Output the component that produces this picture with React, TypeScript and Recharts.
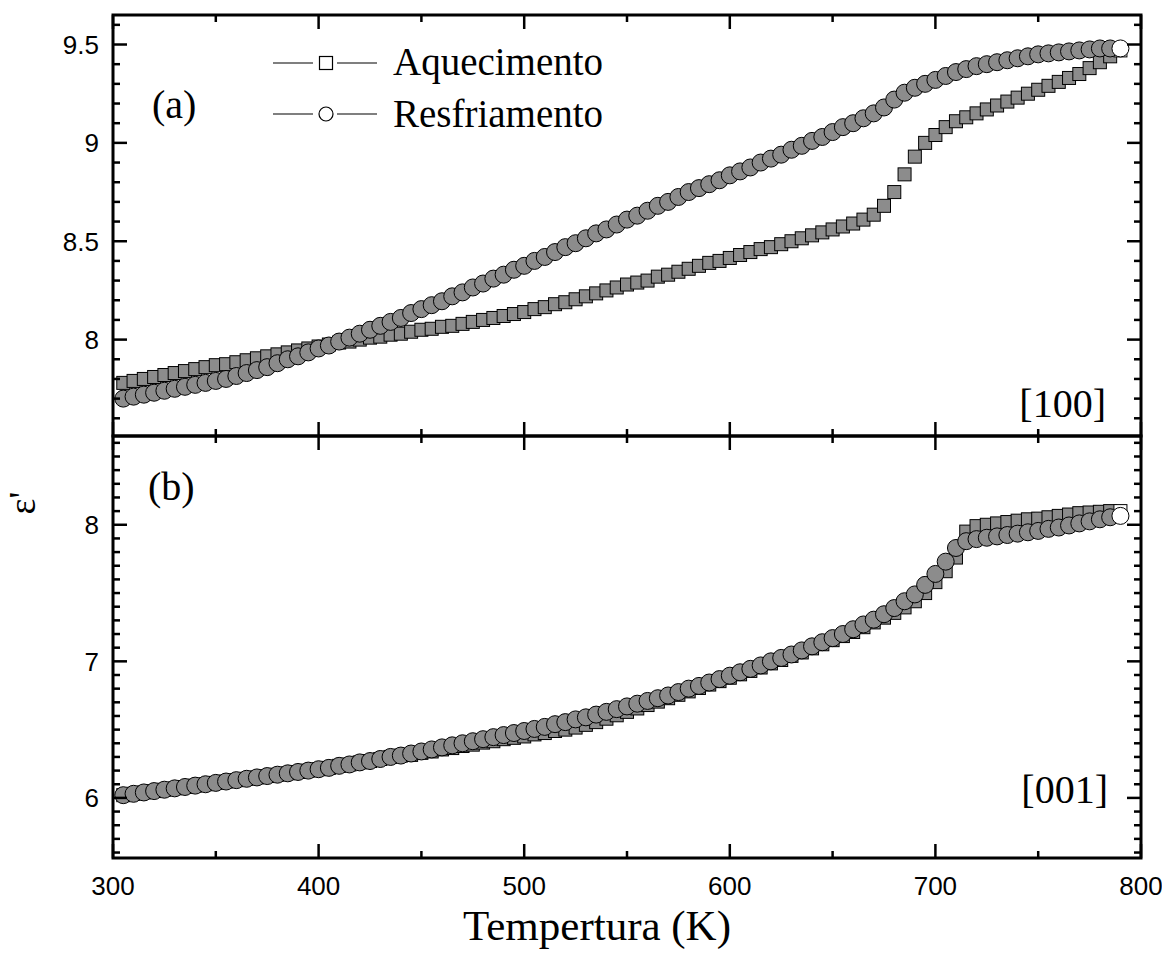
import { ScatterChart, Scatter, XAxis, YAxis, ReferenceArea } from 'recharts';

// temperature grid (K)
const temps = [
  305, 310, 315, 320, 325, 330, 335, 340, 345, 350,
  355, 360, 365, 370, 375, 380, 385, 390, 395, 400,
  405, 410, 415, 420, 425, 430, 435, 440, 445, 450,
  455, 460, 465, 470, 475, 480, 485, 490, 495, 500,
  505, 510, 515, 520, 525, 530, 535, 540, 545, 550,
  555, 560, 565, 570, 575, 580, 585, 590, 595, 600,
  605, 610, 615, 620, 625, 630, 635, 640, 645, 650,
  655, 660, 665, 670, 675, 680, 685, 690, 695, 700,
  705, 710, 715, 720, 725, 730, 735, 740, 745, 750,
  755, 760, 765, 770, 775, 780, 785, 790,
];

// (a) [100]
const heatA = [
  7.78, 7.79, 7.8, 7.81, 7.82, 7.83, 7.84, 7.85, 7.86, 7.87,
  7.875, 7.885, 7.895, 7.905, 7.915, 7.925, 7.935, 7.945, 7.955, 7.965,
  7.975, 7.985, 7.99, 8.0, 8.01, 8.015, 8.025, 8.03, 8.04, 8.05,
  8.055, 8.065, 8.07, 8.08, 8.09, 8.1, 8.11, 8.12, 8.13, 8.14,
  8.155, 8.165, 8.18, 8.19, 8.205, 8.22, 8.235, 8.25, 8.265, 8.28,
  8.29, 8.3, 8.32, 8.33, 8.345, 8.36, 8.375, 8.39, 8.4, 8.415,
  8.43, 8.445, 8.46, 8.47, 8.485, 8.5, 8.515, 8.53, 8.545, 8.56,
  8.575, 8.59, 8.61, 8.635, 8.68, 8.75, 8.84, 8.93, 9.0, 9.04,
  9.08, 9.11, 9.13, 9.15, 9.17, 9.19, 9.21, 9.23, 9.25, 9.27,
  9.29, 9.31, 9.33, 9.35, 9.38, 9.41, 9.44, 9.47,
];
const coolA = [
  7.7, 7.71, 7.72, 7.73, 7.74, 7.75, 7.76, 7.77, 7.78, 7.79,
  7.8, 7.815, 7.83, 7.845, 7.86, 7.88, 7.9, 7.915, 7.935, 7.955,
  7.97, 7.99, 8.01, 8.03, 8.05, 8.07, 8.09, 8.11, 8.135, 8.155,
  8.175, 8.195, 8.22, 8.24, 8.265, 8.285, 8.31, 8.33, 8.355, 8.375,
  8.4, 8.42, 8.445, 8.47, 8.49, 8.515, 8.54, 8.56, 8.585, 8.61,
  8.63, 8.655, 8.68, 8.7, 8.725, 8.75, 8.77, 8.79, 8.81, 8.835,
  8.855, 8.875, 8.9, 8.92, 8.94, 8.965, 8.985, 9.01, 9.03, 9.055,
  9.08, 9.1, 9.125, 9.15, 9.18, 9.22, 9.255, 9.28, 9.3, 9.32,
  9.34, 9.36, 9.375, 9.39, 9.4, 9.41, 9.42, 9.43, 9.44, 9.45,
  9.455, 9.46, 9.465, 9.47, 9.475, 9.48, 9.48, 9.48,
];

// (b) [001]
const heatB = [
  6.02, 6.03, 6.04, 6.05, 6.06, 6.07, 6.08, 6.09, 6.1, 6.11,
  6.12, 6.13, 6.14, 6.15, 6.16, 6.17, 6.18, 6.19, 6.2, 6.21,
  6.22, 6.235, 6.245, 6.26, 6.27, 6.285, 6.3, 6.31, 6.315, 6.33,
  6.34, 6.355, 6.365, 6.38, 6.39, 6.405, 6.415, 6.43, 6.44, 6.45,
  6.465, 6.475, 6.49, 6.5, 6.515, 6.535, 6.555, 6.58, 6.605, 6.63,
  6.655, 6.68, 6.705, 6.73, 6.755, 6.78, 6.805, 6.83, 6.855, 6.88,
  6.905, 6.93, 6.955, 6.985, 7.01, 7.04, 7.065, 7.095, 7.125, 7.155,
  7.185, 7.215, 7.25, 7.285, 7.32, 7.355, 7.395, 7.44, 7.5, 7.58,
  7.66, 7.76, 7.95, 7.99, 8.0, 8.01, 8.02, 8.03, 8.04, 8.045,
  8.055, 8.065, 8.075, 8.085, 8.09, 8.095, 8.1, 8.1,
];
const coolB = [
  6.02, 6.03, 6.04, 6.05, 6.06, 6.07, 6.08, 6.09, 6.1, 6.11,
  6.12, 6.13, 6.14, 6.15, 6.16, 6.17, 6.18, 6.19, 6.2, 6.21,
  6.22, 6.235, 6.245, 6.26, 6.27, 6.285, 6.3, 6.31, 6.325, 6.34,
  6.355, 6.37, 6.385, 6.4, 6.415, 6.43, 6.445, 6.46, 6.475, 6.49,
  6.505, 6.52, 6.54, 6.555, 6.575, 6.59, 6.61, 6.63, 6.65, 6.67,
  6.69, 6.71, 6.73, 6.75, 6.775, 6.8, 6.82, 6.845, 6.87, 6.895,
  6.92, 6.945, 6.97, 7.0, 7.025, 7.05, 7.08, 7.11, 7.14, 7.17,
  7.2, 7.235, 7.27, 7.305, 7.345, 7.39, 7.44, 7.49, 7.56, 7.64,
  7.73, 7.83, 7.88, 7.895, 7.905, 7.915, 7.925, 7.935, 7.945, 7.955,
  7.97, 7.98, 7.995, 8.01, 8.025, 8.04, 8.055, 8.065,
];

const xTicks = [300, 350, 400, 450, 500, 550, 600, 650, 700, 750, 800];
const yTicksA = [
  7.6, 7.7, 7.8, 7.9, 8, 8.1, 8.2, 8.3, 8.4, 8.5, 8.6,
  8.7, 8.8, 8.9, 9, 9.1, 9.2, 9.3, 9.4, 9.5, 9.6,
];
const yTicksB = [
  5.6, 5.7, 5.8, 5.9, 6, 6.1, 6.2, 6.3, 6.4, 6.5, 6.6, 6.7, 6.8, 6.9, 7,
  7.1, 7.2, 7.3, 7.4, 7.5, 7.6, 7.7, 7.8, 7.9, 8, 8.1, 8.2, 8.3, 8.4, 8.5, 8.6,
];

const W = 1162;
const PLOT_L = 113;
const PLOT_R = 1141;
const SANS = '"Liberation Sans", Arial, sans-serif';
const SERIF = '"Liberation Serif", "Times New Roman", serif';
// densely overlapping open symbols read as a grey band; the last one stays open
const BAND = '#8c8c8c';
const LAST = temps.length - 1;

const Square = (p: any) => (
  <rect
    x={p.cx - 6.5}
    y={p.cy - 6.5}
    width={13}
    height={13}
    fill={p.index === LAST ? '#fff' : BAND}
    stroke="#000"
    strokeWidth={1}
  />
);
const Round = (p: any) => (
  <circle cx={p.cx} cy={p.cy} r={8.5} fill={p.index === LAST ? '#fff' : BAND} stroke="#000" strokeWidth={1} />
);

const isStep = (v: number, step: number) => Math.abs(v / step - Math.round(v / step)) < 1e-6;

interface PanelProps {
  heat: number[];
  cool: number[];
  domain: [number, number];
  yTicks: number[];
  majorStep: number;
  height: number;
  top: number;
  axisHeight: number;
  showXLabels: boolean;
}

function Panel({ heat, cool, domain, yTicks, majorStep, height, top, axisHeight, showXLabels }: PanelProps) {
  const heatData = temps.map((t, i) => ({ t, v: heat[i] }));
  const coolData = temps.map((t, i) => ({ t, v: cool[i] }));
  const plotBottom = height - axisHeight;

  const xTick = (p: any) => {
    const v = p.payload.value;
    const len = isStep(v, 100) ? 14 : 7;
    return (
      <g>
        <line x1={p.x} x2={p.x} y1={plotBottom} y2={plotBottom - len} stroke="#000" strokeWidth={2.5} />
        <line x1={p.x} x2={p.x} y1={top} y2={top + len} stroke="#000" strokeWidth={2.5} />
        {showXLabels && isStep(v, 100) && (
          <text x={p.x} y={plotBottom + 37} textAnchor="middle" fontFamily={SANS} fontSize={26} fill="#000">
            {v}
          </text>
        )}
      </g>
    );
  };

  const yTick = (p: any) => {
    const v = p.payload.value;
    const major = isStep(v, majorStep);
    const len = major ? 14 : 7;
    return (
      <g>
        <line x1={PLOT_L} x2={PLOT_L + len} y1={p.y} y2={p.y} stroke="#000" strokeWidth={2.5} />
        <line x1={PLOT_R} x2={PLOT_R - len} y1={p.y} y2={p.y} stroke="#000" strokeWidth={2.5} />
        {major && (
          <text x={PLOT_L - 14} y={p.y} dy="0.36em" textAnchor="end" fontFamily={SANS} fontSize={26} fill="#000">
            {v}
          </text>
        )}
      </g>
    );
  };

  return (
    <ScatterChart width={W} height={height} margin={{ top, right: W - PLOT_R, bottom: 0, left: 0 }}>
      <XAxis
        dataKey="t"
        type="number"
        domain={[300, 800]}
        ticks={xTicks}
        interval={0}
        height={axisHeight}
        tick={xTick}
        tickLine={false}
        axisLine={false}
        allowDataOverflow
      />
      <YAxis
        dataKey="v"
        type="number"
        domain={domain}
        ticks={yTicks}
        interval={0}
        width={PLOT_L}
        tick={yTick}
        tickLine={false}
        axisLine={false}
        allowDataOverflow
      />
      <ReferenceArea x1={300} x2={800} y1={domain[0]} y2={domain[1]} fill="none" stroke="#000" strokeWidth={3} />
      <Scatter name="Aquecimento" data={heatData} shape={Square} isAnimationActive={false} />
      <Scatter name="Resfriamento" data={coolData} shape={Round} isAnimationActive={false} />
    </ScatterChart>
  );
}

export default function App() {
  return (
    <div style={{ position: 'absolute', left: 0, top: 0, width: W, height: 954, background: '#fff' }}>
      <div style={{ position: 'absolute', left: 0, top: 0 }}>
        <Panel
          heat={heatA}
          cool={coolA}
          domain={[7.51, 9.65]}
          yTicks={yTicksA}
          majorStep={0.5}
          height={440}
          top={15}
          axisHeight={4}
          showXLabels={false}
        />
      </div>
      <div style={{ position: 'absolute', left: 0, top: 426 }}>
        <Panel
          heat={heatB}
          cool={coolB}
          domain={[5.56, 8.65]}
          yTicks={yTicksB}
          majorStep={1}
          height={528}
          top={10}
          axisHeight={96}
          showXLabels
        />
      </div>
      <svg
        width={W}
        height={954}
        style={{ position: 'absolute', left: 0, top: 0, pointerEvents: 'none' }}
        fontFamily={SERIF}
        fill="#000"
      >
        {/* legend */}
        <line x1={273} x2={313} y1={63} y2={63} stroke="#000" strokeWidth={1.2} />
        <rect x={319.5} y={56.5} width={13} height={13} fill="#fff" stroke="#000" strokeWidth={1.2} />
        <line x1={337} x2={377} y1={63} y2={63} stroke="#000" strokeWidth={1.2} />
        <text x={393} y={75} fontSize={39}>Aquecimento</text>
        <line x1={273} x2={313} y1={114} y2={114} stroke="#000" strokeWidth={1.2} />
        <circle cx={326} cy={114} r={7} fill="#fff" stroke="#000" strokeWidth={1.2} />
        <line x1={337} x2={377} y1={114} y2={114} stroke="#000" strokeWidth={1.2} />
        <text x={393} y={127} fontSize={39}>Resfriamento</text>

        <text x={152} y={118} fontSize={40}>(a)</text>
        <text x={1106} y={417} fontSize={40} textAnchor="end">[100]</text>
        <text x={148} y={500} fontSize={40}>(b)</text>
        <text x={1108} y={803} fontSize={40} textAnchor="end">[001]</text>

        <text x={597} y={940} fontSize={43} textAnchor="middle">Tempertura (K)</text>
        <text transform="translate(35,503) rotate(-90)" fontSize={38} textAnchor="middle">ε'</text>
      </svg>
    </div>
  );
}
